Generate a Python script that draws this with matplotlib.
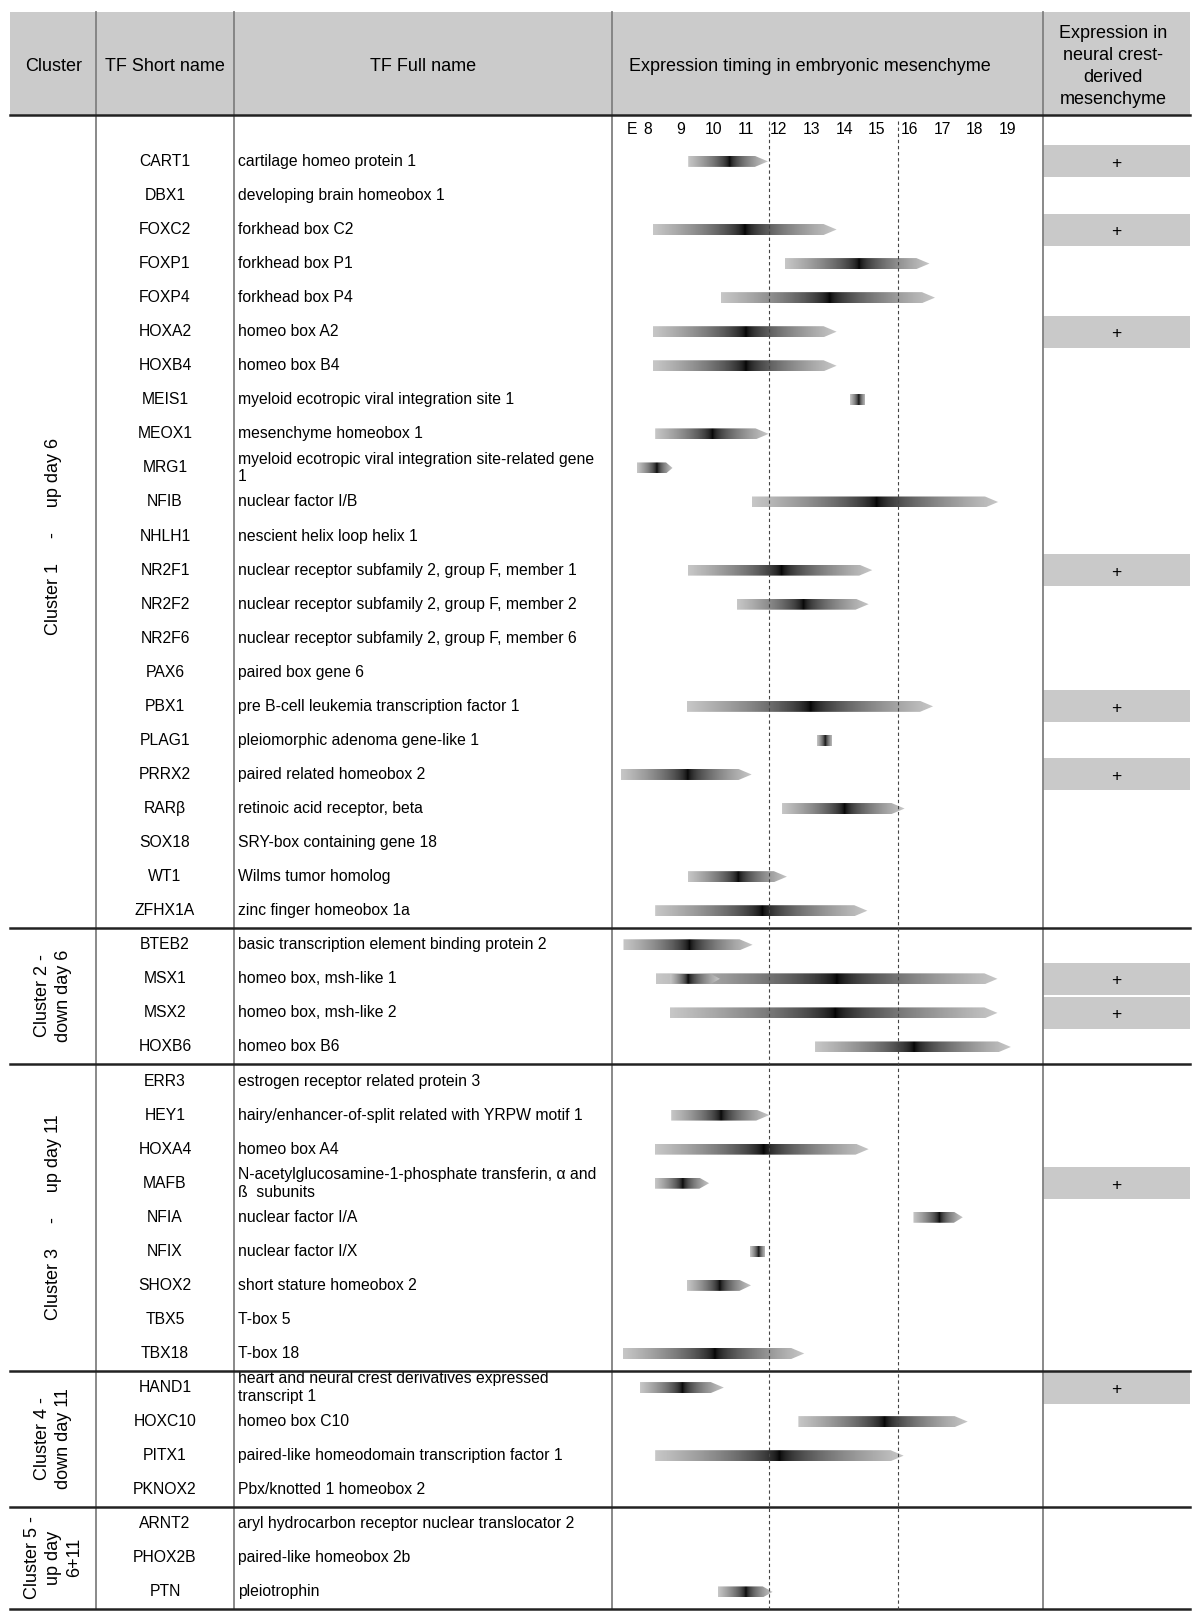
import numpy as np
import matplotlib
matplotlib.use('Agg')
import matplotlib.pyplot as plt
from matplotlib.patches import Polygon, Rectangle

plt.rcParams['font.family'] = ['Liberation Sans', 'DejaVu Sans']

# clusters (label, number of TFs in it)
cluster_labels = ['Cluster 1     -     up day 6',
                  'Cluster 2 -\ndown day 6',
                  'Cluster 3     -     up day 11',
                  'Cluster 4 -\ndown day 11',
                  'Cluster 5 -\nup day\n6+11']
cluster_sizes = [23, 4, 9, 4, 3]

short_names = ['CART1', 'DBX1', 'FOXC2', 'FOXP1', 'FOXP4', 'HOXA2', 'HOXB4', 'MEIS1',
               'MEOX1', 'MRG1', 'NFIB', 'NHLH1', 'NR2F1', 'NR2F2', 'NR2F6', 'PAX6',
               'PBX1', 'PLAG1', 'PRRX2', 'RAR\u03b2', 'SOX18', 'WT1', 'ZFHX1A',
               'BTEB2', 'MSX1', 'MSX2', 'HOXB6',
               'ERR3', 'HEY1', 'HOXA4', 'MAFB', 'NFIA', 'NFIX', 'SHOX2', 'TBX5', 'TBX18',
               'HAND1', 'HOXC10', 'PITX1', 'PKNOX2',
               'ARNT2', 'PHOX2B', 'PTN']

full_names = ['cartilage homeo protein 1',
              'developing brain homeobox 1',
              'forkhead box C2',
              'forkhead box P1',
              'forkhead box P4',
              'homeo box A2',
              'homeo box B4',
              'myeloid ecotropic viral integration site 1',
              'mesenchyme homeobox 1',
              'myeloid ecotropic viral integration site-related gene\n1',
              'nuclear factor I/B',
              'nescient helix loop helix 1',
              'nuclear receptor subfamily 2, group F, member 1',
              'nuclear receptor subfamily 2, group F, member 2',
              'nuclear receptor subfamily 2, group F, member 6',
              'paired box gene 6',
              'pre B-cell leukemia transcription factor 1',
              'pleiomorphic adenoma gene-like 1',
              'paired related homeobox 2',
              'retinoic acid receptor, beta',
              'SRY-box containing gene 18',
              'Wilms tumor homolog',
              'zinc finger homeobox 1a',
              'basic transcription element binding protein 2',
              'homeo box, msh-like 1',
              'homeo box, msh-like 2',
              'homeo box B6',
              'estrogen receptor related protein 3',
              'hairy/enhancer-of-split related with YRPW motif 1',
              'homeo box A4',
              'N-acetylglucosamine-1-phosphate transferin, \u03b1 and\n\u00df  subunits',
              'nuclear factor I/A',
              'nuclear factor I/X',
              'short stature homeobox 2',
              'T-box 5',
              'T-box 18',
              'heart and neural crest derivatives expressed\ntranscript 1',
              'homeo box C10',
              'paired-like homeodomain transcription factor 1',
              'Pbx/knotted 1 homeobox 2',
              'aryl hydrocarbon receptor nuclear translocator 2',
              'paired-like homeobox 2b',
              'pleiotrophin']

nan = np.nan
# expression window in embryonic days: start, darkest point, end (nan = no bar)
expr_start = [9.23, nan, 8.15, 12.19, 10.23, 8.15, 8.15, 14.18, 8.22, 7.65, 11.18, nan,
              9.21, 10.71, nan, nan, 9.19, 13.16, 7.17, 12.10, nan, 9.21, 8.22,
              7.25, 8.24, 8.67, 13.11,
              nan, 8.71, 8.20, 8.21, 16.12, 11.12, 9.19, nan, 7.22,
              7.74, 12.60, 8.22, nan,
              nan, nan, 10.14]
expr_peak = [10.50, nan, 10.96, 14.45, 13.54, 10.99, 10.99, 14.44, 9.97, 8.26, 14.98, nan,
             12.07, 12.73, nan, nan, 12.96, 13.40, 9.21, 14.01, nan, 10.74, 11.49,
             9.27, 13.77, 13.72, 16.14,
             nan, 10.23, 11.51, 9.05, 16.92, 11.37, 10.18, nan, 10.03,
             9.03, 15.24, 12.02, nan,
             nan, nan, 10.99]
expr_end = [11.67, nan, 13.77, 16.61, 16.78, 13.77, 13.77, 14.65, 11.69, 8.75, 18.71, nan,
            14.86, 14.75, nan, nan, 16.72, 13.62, 11.17, 15.85, nan, 12.25, 14.71,
            11.20, 18.69, 18.69, 19.10,
            nan, 11.71, 14.75, 9.87, 17.63, 11.58, 11.15, nan, 12.78,
            10.32, 17.78, 15.82, nan,
            nan, nan, 11.81]

# MSX1 shows a second, early peak on top of its main bar
extra_row = [24]
extra_start = [8.68]
extra_peak = [9.23]
extra_end = [10.20]

# '+' in the neural crest-derived mesenchyme column
neural_crest = ['CART1', 'FOXC2', 'HOXA2', 'NR2F1', 'PBX1', 'PRRX2', 'MSX1', 'MSX2',
                'MAFB', 'HAND1']

day_ticks = [8, 9, 10, 11, 12, 13, 14, 15, 16, 17, 18, 19]
stage_lines = [11.69, 15.65]

# layout, in pixels
W, H = 1200, 1622
row0, pitch = 161.4, 34.06
col_x = [10.3, 96.2, 233.8, 612.4, 1042.8, 1189.7]
head_top, head_bot = 12.4, 115.0
tick_y = 129.0
bottom = row0 + (len(short_names) - 0.5) * pitch


def row_y(i):
    return row0 + i * pitch


def draw_bar(ax, y, start, peak, end, h=11.0, tip=True):
    length = end - start
    tip_len = min(0.4, 0.18 * length) if (tip and length > 1) else 0.0
    body = end - tip_len
    verts = [(start, y - h / 2), (body, y - h / 2), (end, y), (body, y + h / 2), (start, y + h / 2)]
    poly = Polygon(verts, closed=True, facecolor='none', edgecolor='none')
    ax.add_patch(poly)
    xs = np.linspace(start, end, 400)
    d = np.where(xs < peak, (peak - xs) / (peak - start), (xs - peak) / (end - peak))
    vals = 0.78 * np.clip(d, 0, 1) ** 0.55
    im = ax.imshow(vals[None, :], cmap='gray', vmin=0, vmax=1, aspect='auto',
                   extent=(start, end, y + h / 2, y - h / 2), interpolation='bilinear')
    im.set_clip_path(poly)


fig = plt.figure(figsize=(W / 100, H / 100), dpi=100)
ax = fig.add_axes([0, 0, 1, 1])
ax.set_xlim(0, W)
ax.set_ylim(H, 0)
ax.set_axis_off()

# header
ax.add_patch(Rectangle((col_x[0], head_top), col_x[-1] - col_x[0], head_bot - head_top,
                       facecolor='#cbcbcb', edgecolor='none', zorder=0))
hy = (head_top + head_bot) / 2 + 3
hfs = 13
ax.text((col_x[0] + col_x[1]) / 2, hy, 'Cluster', ha='center', va='center', fontsize=hfs)
ax.text((col_x[1] + col_x[2]) / 2, hy, 'TF Short name', ha='center', va='center', fontsize=hfs)
ax.text((col_x[2] + col_x[3]) / 2, hy, 'TF Full name', ha='center', va='center', fontsize=hfs)
ax.text(629, hy, 'Expression timing in embryonic mesenchyme', ha='left', va='center', fontsize=hfs)
ax.text((col_x[4] + col_x[5]) / 2 - 3, hy, 'Expression in\nneural crest-\nderived\nmesenchyme',
        ha='center', va='center', fontsize=hfs, linespacing=1.38)

# column lines
for x in col_x[1:-1]:
    ax.plot([x, x], [head_top, bottom], color='#808080', lw=1.3, zorder=2)

# '+' boxes
for i, name in enumerate(short_names):
    if name in neural_crest:
        y = row_y(i)
        ax.add_patch(Rectangle((col_x[4], y - 16), col_x[5] - col_x[4], 32,
                               facecolor='#c9c9c9', edgecolor='none', zorder=1))
        ax.text((col_x[4] + col_x[5]) / 2, y + 2, '+', ha='center', va='center', fontsize=12.5, zorder=3)

# names
fs = 11.3
for i, (s, f) in enumerate(zip(short_names, full_names)):
    y = row_y(i)
    ax.text((col_x[1] + col_x[2]) / 2, y, s, ha='center', va='center', fontsize=fs)
    ax.text(238, y, f, ha='left', va='center', fontsize=fs, linespacing=1.22)

# clusters and separators
ax.plot([col_x[0], col_x[-1]], [head_bot, head_bot], color='#222222', lw=1.8, zorder=3)
first = 0
for lab, n in zip(cluster_labels, cluster_sizes):
    last = first + n - 1
    yc = (row_y(first) + row_y(last)) / 2
    ax.text((col_x[0] + col_x[1]) / 2, yc, lab, ha='center', va='center', rotation=90,
            fontsize=hfs, linespacing=1.3)
    ysep = row_y(last) + pitch / 2
    ax.plot([col_x[0], col_x[-1]], [ysep, ysep], color='#222222', lw=1.8, zorder=3)
    first = last + 1

# timing column, x in embryonic days
px_per_day = 32.69
x8 = 648.0
ax_t = fig.add_axes([col_x[3] / W, 0, (col_x[4] - col_x[3]) / W, 1])
ax_t.patch.set_alpha(0)
ax_t.set_axis_off()

for d in day_ticks:
    ax_t.text(d, tick_y, str(d), ha='center', va='center', fontsize=fs)
ax_t.text(7.52, tick_y, 'E', ha='center', va='center', fontsize=fs)
ax_t.vlines(stage_lines, tick_y - 8, bottom, colors='#444444', linestyles=(0, (3, 2.5)), lw=0.8)

for i in range(len(short_names)):
    if not np.isnan(expr_start[i]):
        draw_bar(ax_t, row_y(i), expr_start[i], expr_peak[i], expr_end[i])
for r, s, p, e in zip(extra_row, extra_start, extra_peak, extra_end):
    draw_bar(ax_t, row_y(r), s, p, e, h=10)

ax_t.set_xlim(8 + (col_x[3] - x8) / px_per_day, 8 + (col_x[4] - x8) / px_per_day)
ax_t.set_ylim(H, 0)

fig.savefig('out.png', dpi=100, facecolor='white')
